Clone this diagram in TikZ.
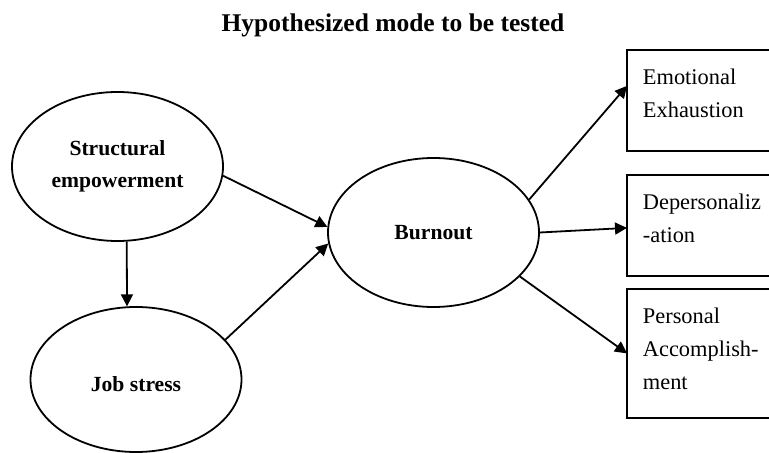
\documentclass[tikz,border=0pt]{standalone}
\usepackage{fontspec}
\setmainfont{Liberation Serif}
\usetikzlibrary{arrows.meta, shapes.geometric}

\begin{document}
\begin{tikzpicture}[x=0.5pt, y=-0.5pt, line width=0.9pt,
  >={Triangle[length=6pt, width=6pt]},
  latent/.style={draw, ellipse, minimum width=105.5pt, minimum height=74.5pt,
    inner sep=1pt, align=center, font=\fontsize{10.8}{16}\selectfont\bfseries},
  factor/.style={rectangle, anchor=north west, text width=75pt,
    align=left, inner xsep=7.5pt, inner ysep=9pt, text height=8pt,
    font=\fontsize{11.2}{16.5}\selectfont}]
  \clip (0,0) rectangle (769,453);
  \useasboundingbox (0,0) rectangle (769,453);

  % Title
  \node[anchor=base, font=\fontsize{12.75}{15}\selectfont\bfseries] (title)
    at (393,32) {Hypothesized mode to be tested};

  % Latent constructs as ellipses
  \node[latent] (sempow)  at (117.5,166.5) {Structural\\empowerment};
  \node[latent, minimum height=72.5pt, text height=12pt] (jstress)
    at (136,379.5) {Job stress};
  \node[latent] (burnout) at (433.5,232.5) {Burnout};

  % Burnout dimensions, boxes open past the right margin
  \node[factor, text depth=23.5pt] (emoex)  at (627,50)  {Emotional\\Exhaustion};
  \node[factor, text depth=23.5pt] (depers) at (627,175) {Depersonaliz\\-ation};
  \node[factor, text depth=37.5pt] (persac) at (627,289)
    {Personal\\Accomplish-\\ment};
  \foreach \b in {emoex, depers, persac}
    \draw (\b.north east) -- (\b.north west) -- (\b.south west) -- (\b.south east);

  % Paths
  \draw[->] (sempow.-5)  -- (burnout.177);
  \draw[->] (sempow.-83) -- (jstress.97);
  \draw[->] (jstress.24) -- (burnout.186);
  \draw[->] (burnout.19)   -- ([yshift=7.25pt]emoex.west);
  \draw[->] (burnout.east) -- ([yshift=-1.25pt]depers.west);
  \draw[->] (burnout.-27)  -- (persac.west);
\end{tikzpicture}
\end{document}
